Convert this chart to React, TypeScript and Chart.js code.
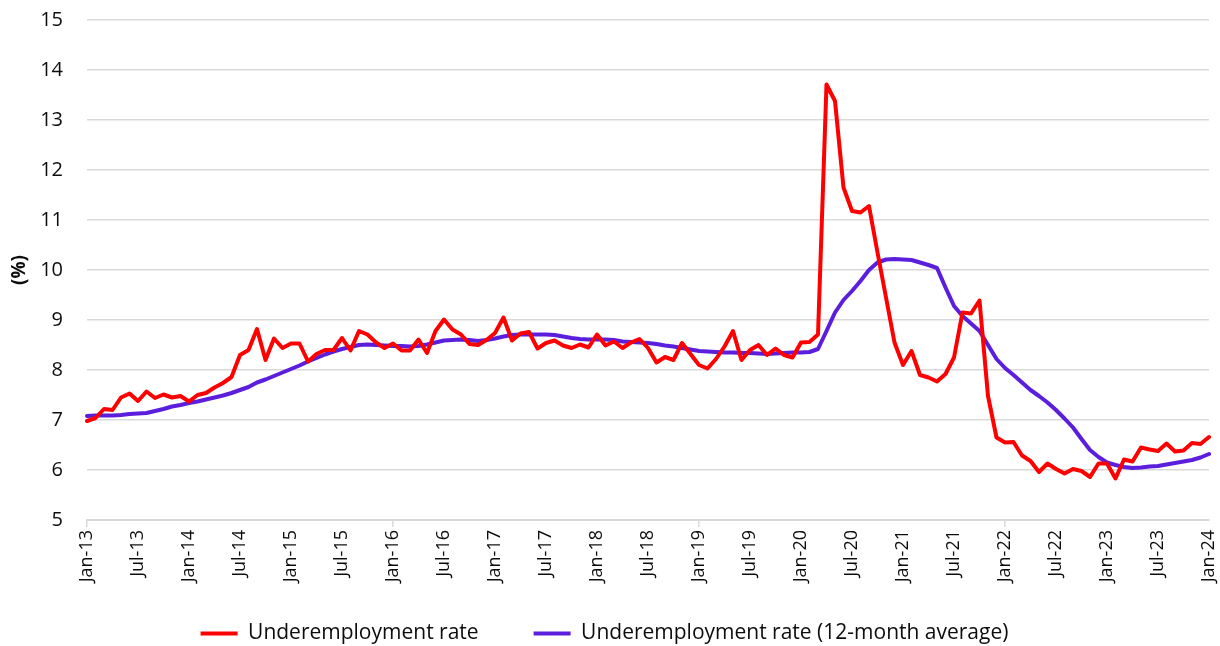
import React, { useEffect, useRef } from "react";
import { Chart, registerables } from "chart.js";

Chart.register(...registerables);

const MONTHS = ["Jan", "Feb", "Mar", "Apr", "May", "Jun", "Jul", "Aug", "Sep", "Oct", "Nov", "Dec"];
const YEARS = ["13", "14", "15", "16", "17", "18", "19", "20", "21", "22", "23", "24"];

// Monthly categories Jan-13 .. Jan-24
const categories: string[] = [];
YEARS.forEach((y) => MONTHS.forEach((m) => categories.push(`${m}-${y}`)));
categories.splice(133);

const underemploymentRate = [
  6.98, 7.04, 7.22, 7.2, 7.45, 7.53, 7.38, 7.57, 7.44, 7.51, 7.45, 7.48,
  7.37, 7.5, 7.54, 7.65, 7.74, 7.86, 8.3, 8.4, 8.82, 8.2, 8.63, 8.44,
  8.53, 8.53, 8.17, 8.32, 8.4, 8.4, 8.64, 8.39, 8.78, 8.71, 8.55, 8.44,
  8.53, 8.39, 8.39, 8.61, 8.34, 8.78, 9.01, 8.81, 8.71, 8.52, 8.5, 8.6,
  8.74, 9.05, 8.59, 8.73, 8.76, 8.43, 8.54, 8.59, 8.49, 8.44, 8.51, 8.45,
  8.71, 8.49, 8.57, 8.44, 8.55, 8.62, 8.44, 8.15, 8.26, 8.2, 8.54, 8.32,
  8.1, 8.03, 8.22, 8.47, 8.78, 8.2, 8.4, 8.5, 8.3, 8.43, 8.3, 8.25,
  8.55, 8.56, 8.71, 13.71, 13.38, 11.65, 11.18, 11.15, 11.28, 10.35, 9.45, 8.55,
  8.1, 8.38, 7.9, 7.85, 7.77, 7.92, 8.25, 9.15, 9.13, 9.39, 7.48, 6.65,
  6.55, 6.56, 6.29, 6.18, 5.96, 6.13, 6.02, 5.93, 6.02, 5.98, 5.86, 6.13,
  6.13, 5.83, 6.21, 6.17, 6.45, 6.41, 6.38, 6.53, 6.37, 6.39, 6.54, 6.52,
  6.66,
];

const underemploymentAvg = [
  7.08, 7.09, 7.09, 7.09, 7.1, 7.12, 7.13, 7.14, 7.18, 7.22, 7.27, 7.3,
  7.34, 7.37, 7.41, 7.45, 7.49, 7.54, 7.6, 7.66, 7.75, 7.81, 7.88, 7.95,
  8.02, 8.09, 8.17, 8.24, 8.31, 8.37, 8.42, 8.46, 8.5, 8.51, 8.5, 8.49,
  8.48, 8.48, 8.47, 8.48, 8.51, 8.55, 8.59, 8.6, 8.61, 8.6, 8.58, 8.6,
  8.63, 8.67, 8.7, 8.71, 8.71, 8.71, 8.71, 8.7, 8.67, 8.64, 8.62, 8.61,
  8.61, 8.61, 8.6, 8.57, 8.56, 8.55, 8.54, 8.52, 8.49, 8.47, 8.44, 8.41,
  8.38, 8.37, 8.36, 8.35, 8.35, 8.34, 8.34, 8.33, 8.32, 8.33, 8.34, 8.35,
  8.35, 8.36, 8.42, 8.78, 9.15, 9.4, 9.58, 9.78, 10.0, 10.15, 10.21, 10.22,
  10.21, 10.2, 10.15, 10.1, 10.04, 9.65, 9.28, 9.08, 8.93, 8.78, 8.5, 8.22,
  8.04, 7.9, 7.75, 7.6, 7.48, 7.35, 7.2, 7.03, 6.85, 6.62, 6.4, 6.26,
  6.15, 6.1, 6.06, 6.04, 6.05, 6.07, 6.08, 6.11, 6.14, 6.17, 6.2, 6.25,
  6.32,
];

const Y_MIN = 5;
const Y_MAX = 15;
const TICK_EVERY = 6;

const RED = "#FF0000";
const BLUE = "#5A1EDC";
const GRID = "#D9D9D9";
const TEXT = "#0D0D0D";
const FONT = "'Open Sans', 'Noto Sans', sans-serif";

export default function App() {
  const ref = useRef<HTMLCanvasElement>(null);

  useEffect(() => {
    const chart = new Chart(ref.current!, {
      type: "line",
      data: {
        labels: categories,
        datasets: [
          {
            label: "Underemployment rate",
            data: underemploymentRate,
            borderColor: RED,
            backgroundColor: RED,
            borderWidth: 4,
            borderCapStyle: "round",
            borderJoinStyle: "round",
            pointRadius: 0,
            tension: 0,
          },
          {
            label: "Underemployment rate (12-month average)",
            data: underemploymentAvg,
            borderColor: BLUE,
            backgroundColor: BLUE,
            borderWidth: 4,
            borderCapStyle: "round",
            borderJoinStyle: "round",
            pointRadius: 0,
            tension: 0,
          },
        ],
      },
      options: {
        animation: false,
        responsive: true,
        maintainAspectRatio: false,
        layout: { padding: { top: 20, right: 11, left: 0, bottom: 0 } },
        plugins: {
          legend: {
            position: "bottom",
            labels: {
              usePointStyle: true,
              pointStyle: "line",
              pointStyleWidth: 37,
              font: { family: FONT, size: 21 },
              color: TEXT,
              padding: 55,
            },
          },
          tooltip: { enabled: false },
        },
        scales: {
          x: {
            type: "category",
            offset: false,
            grid: {
              drawOnChartArea: false,
              drawTicks: true,
              tickLength: 7,
              lineWidth: 1.5,
              color: (c: any) => (c.index % TICK_EVERY === 0 ? GRID : "rgba(0,0,0,0)"),
            },
            border: { display: true, color: GRID, width: 2 },
            ticks: {
              autoSkip: false,
              minRotation: 90,
              maxRotation: 90,
              padding: 3,
              color: TEXT,
              font: { family: FONT, size: 18 },
              callback: function (this: any, v: any, i: number) {
                return i % TICK_EVERY === 0 ? this.getLabelForValue(v) : null;
              },
            },
            afterFit: (s: any) => {
              s.height = 48;
              s.paddingLeft = 0;
              s.paddingRight = 0;
              s._computeLabelArea = () => undefined;
            },
          },
          y: {
            min: Y_MIN,
            max: Y_MAX,
            ticks: {
              stepSize: 1,
              padding: 24,
              color: TEXT,
              font: { family: FONT, size: 20 },
            },
            grid: { color: GRID, lineWidth: 1.5, drawTicks: false },
            border: { display: false },
            title: {
              display: true,
              text: "(%)",
              color: TEXT,
              font: { family: FONT, size: 19, weight: "bold" },
              padding: { top: 8, bottom: 0 },
            },
            afterFit: (s: any) => {
              s.width = 87;
              s.paddingTop = 0;
              s.paddingBottom = 0;
            },
          },
        },
      },
    } as any);
    return () => chart.destroy();
  }, []);

  return (
    <div
      style={{
        position: "fixed",
        left: 0,
        top: 0,
        width: 1220,
        height: 654,
        background: "#ffffff",
      }}
    >
      <canvas ref={ref} />
    </div>
  );
}
